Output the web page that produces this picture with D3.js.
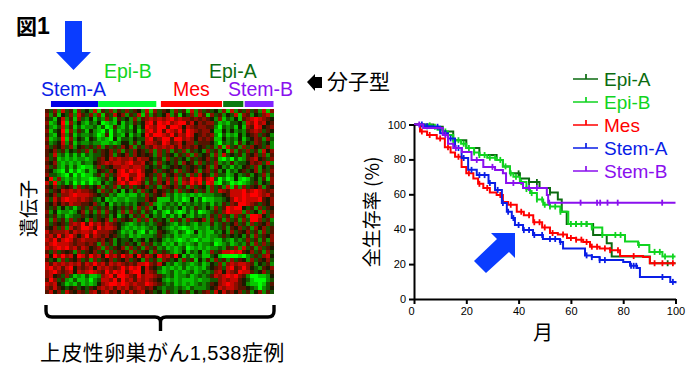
<!DOCTYPE html>
<html>
<head>
<meta charset="utf-8">
<script src="https://cdn.jsdelivr.net/npm/d3@7"></script>
<style>
  body { margin: 0; background: #fff; }
  svg { display: block; }
  text { font-family: "Liberation Sans", Arial, sans-serif; }
  .jp { font-family: "Noto Sans CJK JP", sans-serif; }
</style>
</head>
<body>
<svg width="700" height="370"></svg>
<script>
// subtype names and colours
const subtypes = ["Epi-A", "Epi-B", "Mes", "Stem-A", "Stem-B"];
const subtypeColors = ["#0b6b10", "#10d420", "#ff0000", "#0a1ee6", "#8a10ee"];

// heatmap, 4px grid, 0 = bright green, 4 = black, 8 = bright red
const heatRows = [
  "5362735163 4271536253 6354271635 4263517263 5342617253 6352716",
  "6251436275 3626153746 2537162534 7251436275 1635243716 5243672",
  "5314725163 2413263153 4262567676 7867665656 5426132415 6787654",
  "6124816242 1324012141 3253478587 8678857465 6631213342 7686745",
  "5213725131 2231301521 3142487688 5887476566 5520323141 6587456",
  "6134816253 1421030312 3241378685 8768587656 6411424232 5676354",
  "5214725132 2320150321 4132486887 6857687456 5620312142 4563542",
  "6123816243 1431210413 3243378568 8588676465 6511423241 3465263",
  "5234725132 2322112124 4252477658 7567466355 5420323152 4365342",
  "6354636245 3536253536 4625365767 6757565645 3526173526 3645362",
  "5463524353 6253546362 5364536263 6253625342 6352416253 6352746",
  "5372313131 3233546254 6364545263 5425362634 5262734352 5463625",
  "6351212122 1235647676 6757664352 6353425354 6351020312 5674536",
  "5462121213 2245676776 7866745263 4352645263 5362325233 4656372",
  "6352131310 1136354667 7677634352 3454354534 6264231324 5362435",
  "5421030201 3124536478 6878644635 4526354625 6352413245 3462536",
  "6332103020 1135263578 8668745362 5463526374 5263312423 5243625",
  "4826212121 1012352486 8578635263 6372658785 7830201410 1342516",
  "7382313020 2021423578 6887525364 7362768683 8710320101 2352436",
  "5463545263 5346253625 3635463526 5463526354 2635271626 3546254",
  "6354767676 6542635241 4252634645 3526354635 2637657778 6787656",
  "5463667877 7654352311 2113263546 2312121212 2233457778 7887675",
  "6375787767 6532412122 1223364511 1312014130 1122346878 7778546",
  "5464657665 5463241323 2324536212 3231323232 3132536588 7653546",
  "5352423135 3635352435 3526362413 2324132532 4263587884 3526354",
  "6241221246 2526263426 2635253131 0310131301 2353687772 6342735",
  "5352312335 3435352413 4253624231 3131421323 2536352635 2887436",
  "6263526354 2635462635 4526362534 2635263546 2635263526 3886352",
  "6354536768 5867576543 2123232354 3213232132 2523534635 2635463",
  "5463627568 8758677642 1212123243 2121012122 1323525463 5264635",
  "7566675767 7686665431 2131031254 3213201412 1132426354 6352635",
  "6758578646 8576564532 3121222353 2312112212 1223534342 5263546",
  "7685787567 6665645243 3423424342 1210121021 1211321323 6352526",
  "6787776566 5652635243 5342635231 2131212312 2301231232 5263635",
  "7678786757 6456263546 2635263523 1212301212 1223253627 3526354",
  "5363545263 5463526354 5263542635 3212413241 2635778785 4635263",
  "7486867487 5867486758 6748576486 7584131231 1341000010 2353674",
  "5342635463 5263546354 6354263526 5342635142 5263526354 2635463",
  "7576767675 7686757676 5657786574 2312321231 2436267677 6524352",
  "7867578465 6747676568 6878475431 2121312121 3456378568 6432546",
  "6786567476 7876586878 5788476521 2312123123 2367476587 7534635",
  "6745363121 3112678588 7658677653 2312231232 3576787865 2001124",
  "5863521311 2023776858 6757676542 1212111212 2336767754 3100023",
  "7674312131 2124678878 7676687653 2312121232 3546787654 2110135",
  "6575434534 3546767576 7567656432 3323213222 3457677655 4320234",
  "5746375465 3674675647 5756745342 5324352435 6374756463 5246253"
];

// subtype bars above the heatmap, % of the heatmap width
const barSubtypes = ["Stem-A", "Epi-B", "Mes", "Epi-A", "Stem-B"];
const barStarts = [2.6, 23.2, 50.6, 77.8, 87.2];
const barEnds = [23.2, 48.6, 77.3, 86.6, 99.8];
const barColors = ["#0000e6", "#00ff30", "#ff0000", "#0a7a10", "#8020ff"];

// survival curves, month / percent
const epiAMonths = [0, 7.3, 11, 15, 20, 25, 31.6, 34, 36.7, 40.5, 44, 48, 52, 55, 56.5, 58.4, 68.5, 73.7, 75.6, 90.2, 100];
const epiASurv = [100, 98.7, 96, 91, 86.5, 82.5, 79.7, 76, 72, 69, 67, 63.6, 61, 57, 50, 43, 36.7, 32, 24.3, 20.5, 20.5];
const epiBMonths = [0, 3, 7, 9, 11, 13, 15, 18, 20, 23, 25, 28, 31.6, 34, 36.7, 38, 40.5, 43, 44.4, 47, 49.4, 52, 56, 59, 68, 72, 80.7, 85.7, 90, 95, 100];
const epiBSurv = [100, 99.5, 98.7, 97, 96, 94, 91, 89, 86.5, 84, 82.5, 81, 79.7, 76, 72, 70, 67, 63, 60.7, 57, 54, 53, 50, 43, 41, 36.7, 33, 31, 27, 24.3, 24.3];
const mesMonths = [0, 2.3, 5, 8.7, 11.8, 14, 15.7, 18.2, 20, 22.7, 24.5, 26.5, 29, 31.6, 34, 36, 39.3, 42, 45.6, 49, 52, 55, 58.5, 62, 64.7, 67.3, 71, 75, 78.8, 87.6, 90.2, 100];
const mesSurv = [100, 96, 94, 92, 87, 84, 81.5, 75.7, 72, 69, 66, 63.6, 61, 59.6, 55.6, 54, 50, 48, 44, 41, 37.8, 37, 35, 34, 32.7, 30, 29, 28, 24.6, 24, 20.5, 20.5];
const stemAMonths = [0, 4, 7.3, 10, 13, 15.7, 18.2, 20.7, 24, 28.5, 31, 33.6, 35.5, 37.4, 38.6, 41.7, 45.5, 49.3, 55.8, 57, 63.5, 65.4, 68, 71, 80, 82.6, 85.3, 86.4, 96, 98, 100];
const stemASurv = [100, 99, 98.7, 95, 92, 86.5, 80.8, 74, 71, 66.5, 62.5, 55, 50, 46.4, 42.4, 39.5, 36.7, 34.4, 32.7, 29, 29, 25, 24, 22.3, 21.2, 19, 17.8, 12.6, 12.6, 9.8, 9];
const stemBMonths = [0, 3.5, 11, 13, 15, 18.3, 22, 26.5, 31, 34, 35.2, 41.7, 48.2, 50.8, 51.3, 100];
const stemBSurv = [100, 98, 94, 89, 86.5, 84.3, 79.7, 75.7, 73.9, 72, 66.5, 63.6, 63.6, 59.6, 55.2, 55.2];

// censor marks, months
const epiACensor = [40, 44, 47, 52, 62, 66, 97];
const epiBCensor = [6, 8, 10, 12, 15, 17, 19, 21, 23, 25, 27, 29, 31, 33, 35, 37, 39, 41, 43, 45, 47, 49, 50, 52, 54, 56, 60, 62, 64, 66, 68, 72, 77, 79, 86, 92, 94, 96, 99];
const mesCensor = [3, 6, 10, 13, 17, 21, 25, 28, 33, 37, 41, 44, 46, 48, 50, 53, 57, 60, 62, 64, 66, 68, 70, 73, 75, 78, 84, 92, 95, 99];
const stemACensor = [3, 5, 9, 12, 14, 17, 19, 22, 25, 27, 29, 32, 34, 36, 38, 40, 42, 44, 46, 49, 52, 54, 56, 66, 68, 71, 73, 83, 84, 85, 95, 99];
const stemBCensor = [2, 12, 16, 24, 30, 38, 44, 47, 51.7, 63.7, 70, 71.2, 74, 77.9, 94.9];

const xTicks = [0, 20, 40, 60, 80, 100];
const yTicks = [0, 20, 40, 60, 80, 100];

const svg = d3.select("svg");

// ---- heatmap
const heatLeft = 45, heatRight = 274, heatTop = 109, heatBottom = 294;
const cells = heatRows.flatMap((row, r) =>
  row.replace(/ /g, "").split("").map((v, c) => ({ r, c, v: +v }))
);
const colX = d3.scaleBand().domain(d3.range(57)).range([heatLeft, heatRight]);
const rowY = d3.scaleBand().domain(d3.range(heatRows.length)).range([heatTop, heatBottom]);
const heatColor = d3.scaleLinear().domain([0, 4, 8]).range(["#00ff00", "#1a1a00", "#ff0000"]);

svg.append("g")
  .attr("shape-rendering", "crispEdges")
  .selectAll("rect")
  .data(cells)
  .enter()
  .append("rect")
  .attr("x", (d) => colX(d.c))
  .attr("y", (d) => rowY(d.r))
  .attr("width", colX.bandwidth())
  .attr("height", rowY.bandwidth())
  .attr("fill", (d) => heatColor(d.v));

const barX = d3.scaleLinear().domain([0, 100]).range([heatLeft, heatRight]);
const subtypeColor = d3.scaleOrdinal(subtypes, subtypeColors);
svg.append("g")
  .selectAll("rect")
  .data(barSubtypes)
  .enter()
  .append("rect")
  .attr("x", (d, i) => barX(barStarts[i]))
  .attr("y", 101)
  .attr("width", (d, i) => barX(barEnds[i]) - barX(barStarts[i]))
  .attr("height", 6)
  .attr("fill", (d, i) => barColors[i]);

const headerLabels = [
  ["Stem-A", 41, 96], ["Epi-B", 104, 78], ["Mes", 173, 96], ["Epi-A", 209, 78], ["Stem-B", 228, 96]
];
svg.append("g")
  .selectAll("text")
  .data(headerLabels)
  .enter()
  .append("text")
  .attr("x", (d) => d[1])
  .attr("y", (d) => d[2])
  .attr("font-size", 19.5)
  .attr("fill", (d) => subtypeColor(d[0]))
  .text((d) => d[0]);

// big arrows
svg.append("path").attr("d", "M65,21H82V52H91L73.5,70L56,52H65Z").attr("fill", "#0a3cff");
svg.append("path").attr("d", "M515,233H491L497,239L474,261L486,273L509,252L515,258Z").attr("fill", "#0a3cff");
svg.append("path").attr("d", "M307,82L315,74V77H322V88H315V91Z").attr("fill", "#000");

svg.append("text").attr("class", "jp").attr("x", 16).attr("y", 34).attr("font-size", 21).attr("font-weight", "bold").text("図");
svg.append("text").attr("x", 37).attr("y", 34).attr("font-size", 23).attr("font-weight", "bold").text("1");
svg.append("text").attr("class", "jp").attr("x", 327).attr("y", 89).attr("font-size", 21).text("分子型");

const caption = svg.append("text").attr("class", "jp").attr("x", 40).attr("y", 360).attr("font-size", 21).attr("letter-spacing", 0.4);
caption.append("tspan").text("上皮性卵巣がん");
caption.append("tspan").attr("style", "font-family:'Liberation Sans'").attr("font-size", 20).text("1,538");
caption.append("tspan").text("症例");

svg.append("text")
  .attr("class", "jp")
  .attr("transform", "translate(36,237) rotate(-90)")
  .attr("font-size", 19)
  .text("遺伝子");

// brace under the heatmap
svg.append("path")
  .attr("d", "M46,305V311Q46,317 52,317H155Q160.5,317 160.5,322V331M160.5,322Q160.5,317 166,317H268Q274,317 274,311V305")
  .attr("fill", "none")
  .attr("stroke", "#000")
  .attr("stroke-width", 3.4);

// ---- survival plot
const xScale = d3.scaleLinear().domain([0, 100]).range([414, 675.5]);
const yScale = d3.scaleLinear().domain([0, 100]).range([299, 124.5]);

const xAxis = d3.axisBottom(xScale).tickValues(xTicks).tickSize(5).tickSizeOuter(0);
const yAxis = d3.axisLeft(yScale).tickValues(yTicks).tickSize(5).tickSizeOuter(0);

const curves = [
  { name: "Epi-A", months: epiAMonths, surv: epiASurv, censor: epiACensor },
  { name: "Epi-B", months: epiBMonths, surv: epiBSurv, censor: epiBCensor },
  { name: "Mes", months: mesMonths, surv: mesSurv, censor: mesCensor },
  { name: "Stem-A", months: stemAMonths, surv: stemASurv, censor: stemACensor },
  { name: "Stem-B", months: stemBMonths, surv: stemBSurv, censor: stemBCensor }
];

const line = d3.line()
  .x((d) => xScale(d[0]))
  .y((d) => yScale(d[1]))
  .curve(d3.curveStepAfter);

curves.forEach((c) => {
  const g = svg.append("g");
  g.append("path")
    .attr("d", line(c.months.map((m, i) => [m, c.surv[i]])))
    .attr("fill", "none")
    .attr("stroke", subtypeColor(c.name))
    .attr("stroke-width", 2);
  const bisect = d3.bisector((m) => m).right;
  g.selectAll("line")
    .data(c.censor)
    .enter()
    .append("line")
    .attr("x1", (d) => xScale(d))
    .attr("x2", (d) => xScale(d))
    .attr("y1", (d) => yScale(c.surv[bisect(c.months, d) - 1]) - 3)
    .attr("y2", (d) => yScale(c.surv[bisect(c.months, d) - 1]) + 3)
    .attr("stroke", subtypeColor(c.name))
    .attr("stroke-width", 1.8);
});

const gx = svg.append("g").attr("transform", "translate(0,299)").call(xAxis);
const gy = svg.append("g").attr("transform", "translate(414,0)").call(yAxis);
[gx, gy].forEach((g) => {
  g.selectAll("path,line").attr("stroke", "#000").attr("stroke-width", 2);
  g.selectAll("text").attr("font-size", 11).attr("fill", "#000").attr("font-family", "Liberation Sans");
});
gx.selectAll("text").filter((d) => d === 0).attr("dx", -3);

svg.append("text").attr("class", "jp").attr("x", 543).attr("y", 340).attr("text-anchor", "middle").attr("font-size", 20).text("月");
svg.append("text")
  .attr("class", "jp")
  .attr("transform", "translate(379,212) rotate(-90)")
  .attr("text-anchor", "middle")
  .attr("font-size", 19)
  .text("全生存率 (%)");

// legend
const legendY = d3.scalePoint().domain(subtypes).range([79, 171]);
const legend = svg.append("g")
  .selectAll("g")
  .data(subtypes)
  .enter()
  .append("g")
  .attr("transform", (d) => `translate(573,${legendY(d)})`);
legend.append("path")
  .attr("d", "M0,0H25M13,-5V0")
  .attr("fill", "none")
  .attr("stroke", (d) => subtypeColor(d))
  .attr("stroke-width", 1.7);
legend.append("text")
  .attr("x", 31)
  .attr("y", 6.5)
  .attr("font-size", 19)
  .attr("fill", (d) => subtypeColor(d))
  .text((d) => d);
</script>
</body>
</html>
